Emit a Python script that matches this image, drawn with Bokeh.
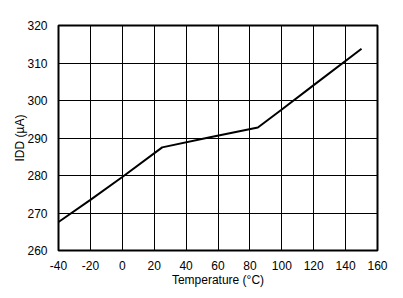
from bokeh.plotting import figure
from bokeh.models import FixedTicker, Range1d
from bokeh.embed import file_html
from bokeh.resources import INLINE

temperature = [-40, -20, 0, 25, 55, 85, 100, 120, 150]
idd = [267.6, 273.5, 279.6, 287.5, 290.2, 292.8, 297.6, 304.1, 313.8]
x_ticks = [-40, -20, 0, 20, 40, 60, 80, 100, 120, 140, 160]
y_ticks = [260, 270, 280, 290, 300, 310, 320]

FONT = "Liberation Sans"

p = figure(width=403, height=298, output_backend="svg", toolbar_location=None,
           x_range=Range1d(-40, 160), y_range=Range1d(260, 320),
           min_border_left=58, min_border_right=26, min_border_top=25, min_border_bottom=48)

p.line(temperature, idd, line_color="black", line_width=2)

p.outline_line_color = "black"
p.outline_line_width = 2
p.background_fill_color = "white"
p.border_fill_color = "white"

for ax, ticks in ((p.xaxis, x_ticks), (p.yaxis, y_ticks)):
    ax.ticker = FixedTicker(ticks=ticks)
    ax.axis_line_color = None
    ax.major_tick_line_color = None
    ax.minor_tick_line_color = None
    ax.major_label_text_font = FONT
    ax.major_label_text_font_size = "12px"
    ax.major_label_text_color = "black"
    ax.axis_label_text_font = FONT
    ax.axis_label_text_font_size = "12px"
    ax.axis_label_text_font_style = "normal"
    ax.axis_label_text_color = "black"

p.xaxis.major_label_overrides = {t: str(t) for t in x_ticks}
p.xaxis.axis_label = "Temperature (°C)"
p.yaxis.axis_label = "IDD (µA)"
p.xaxis.major_label_standoff = 4
p.yaxis.major_label_standoff = 5
p.xaxis.axis_label_standoff = 0
p.yaxis.axis_label_standoff = -3

p.xgrid.ticker = FixedTicker(ticks=x_ticks)
p.ygrid.ticker = FixedTicker(ticks=y_ticks)
p.grid.grid_line_color = "black"
p.grid.grid_line_width = 1
p.grid.grid_line_alpha = 1.0

open("out.html", "w").write(file_html(p, INLINE))
